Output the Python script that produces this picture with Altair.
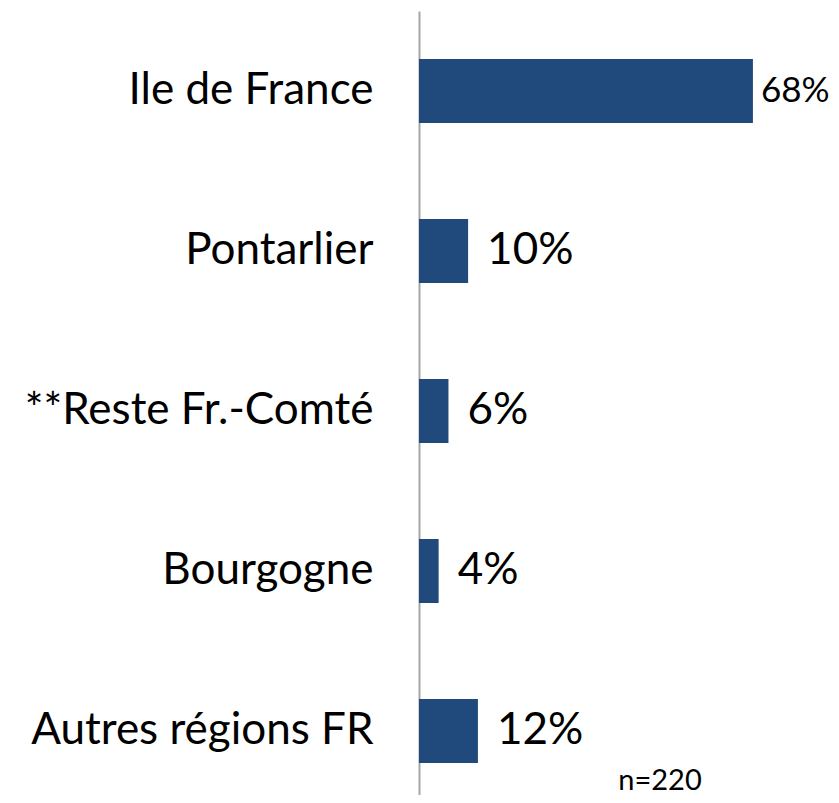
import altair as alt
import pandas as pd

regions = ["Ile de France", "Pontarlier", "**Reste Fr.-Comté", "Bourgogne", "Autres régions FR"]
values = [68, 10, 6, 4, 12]
labels = ["68%", "10%", "6%", "4%", "12%"]
note = "n=220"

df = pd.DataFrame({"region": regions, "value": values, "label": labels})

FONT = "Lato"
BLUE = "#214A7C"

y_enc = alt.Y("region:N", sort=regions, title=None,
              scale=alt.Scale(paddingInner=0.6, paddingOuter=0.25, align=0.6),
              axis=alt.Axis(labelFontSize=44, labelFont=FONT, labelColor="#000000",
                            labelPadding=46, ticks=False, domainColor="#A6A6A6",
                            domainWidth=2, labelLimit=0))
x_enc = alt.X("value:Q", scale=alt.Scale(domain=[0, 83.9]), axis=None)

bars = alt.Chart(df).mark_bar(color=BLUE).encode(x=x_enc, y=y_enc)

big = alt.Chart(df).transform_filter(alt.datum.value >= 50).mark_text(
    align="left", baseline="middle", dx=8, fontSize=35, font=FONT, color="#000000"
).encode(x=x_enc, y=y_enc, text="label:N")

small = alt.Chart(df).transform_filter(alt.datum.value < 50).mark_text(
    align="left", baseline="middle", dx=19, fontSize=44, font=FONT, color="#000000"
).encode(x=x_enc, y=y_enc, text="label:N")

note_layer = alt.Chart(pd.DataFrame({"t": [note]})).mark_text(
    align="center", baseline="alphabetic", fontSize=29, font=FONT, color="#000000"
).encode(x=alt.value(241), y=alt.value(779), text="t:N")

chart = alt.layer(bars, big, small, note_layer).properties(
    width=412, height=784,
    autosize=alt.AutoSizeParams(type="none"),
    padding={"left": 411, "top": 3, "right": 0, "bottom": 0},
).configure_view(stroke=None)

chart.save("out.html", embed_options={"renderer": "svg", "actions": False})
